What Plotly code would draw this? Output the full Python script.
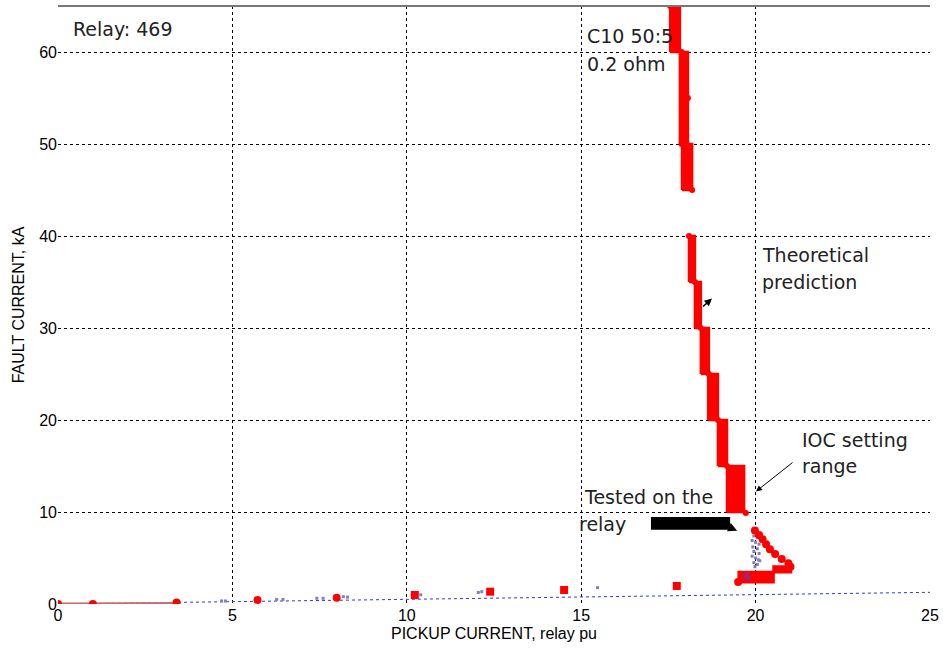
import plotly.graph_objects as go

# Theoretical prediction steps (kA bands and pickup range)
theo_y_low = [60, 50, 45, 35, 30, 25, 20, 15, 10]
theo_y_high = [65, 60, 50, 40, 35, 30, 25, 20, 15]
theo_x_left = [17.55, 17.83, 17.89, 18.09, 18.26, 18.43, 18.64, 18.92, 19.18]
theo_x_right = [17.83, 18.06, 18.18, 18.26, 18.43, 18.66, 18.92, 19.18, 19.67]
theo_dot_x = [17.55, 17.88, 18.06, 17.88, 18.18, 18.09, 18.26, 18.43, 18.66, 18.92, 19.18, 19.72]
theo_dot_y = [65, 60, 55, 50, 45, 40, 35, 30, 25, 20, 15, 9.9]

# Tested region blocks
test_y_low = [2.32, 3.41]
test_y_high = [3.52, 4.14]
test_x_left = [19.5, 20.5]
test_x_right = [20.53, 21.03]
test_dot_x = [19.98, 20.1, 20.2, 20.3, 20.41, 20.56, 20.75, 20.94, 21.0, 19.5]
test_dot_y = [8.0, 7.5, 7.05, 6.5, 5.96, 5.44, 4.9, 4.43, 4.06, 2.4]

# Low-current points
low_x = [0, 1.0, 3.4, 5.72, 7.99, 10.23, 12.39, 14.51, 17.74]
low_y = [0, 0, 0.15, 0.44, 0.69, 0.98, 1.34, 1.52, 1.96]
low_line_x = [0, 3.4]
low_line_y = [0, 0.05]

# Measured (purple) points
meas_x = [4.69, 4.8, 6.27, 6.45, 7.42, 7.6, 8.18, 8.3, 10.28, 10.4, 12.15, 12.05, 15.47,
          19.95, 20.05, 19.9, 20.0, 20.1, 19.92, 20.05, 19.95, 20.1, 19.9, 20.0, 20.08, 19.95, 20.05, 19.98, 20.12]
meas_y = [0.33, 0.33, 0.5, 0.5, 0.62, 0.62, 0.8, 0.75, 1.16, 1.0, 1.34, 1.25, 1.78,
          7.4, 7.2, 6.9, 6.7, 6.5, 6.2, 6.0, 5.7, 5.5, 5.2, 5.0, 4.8, 4.5, 4.3, 4.05, 4.7]
meas_xmark_x = [19.7, 19.8, 19.75]
meas_xmark_y = [3.0, 2.8, 3.2]

# Linear reference line
ref_x = [0, 25]
ref_y = [0, 1.27]

RED = "#ff0000"
fig = go.Figure()

fig.add_trace(go.Scatter(x=ref_x, y=ref_y, mode="lines",
                         line=dict(color="#3030ff", width=1, dash="dot"), hoverinfo="skip"))

def blocks(xl, xr, yl, yh):
    xs, ys = [], []
    for a, b, c, d in zip(xl, xr, yl, yh):
        xs += [a, b, b, a, a, None]
        ys += [c, c, d, d, c, None]
    return xs, ys

bx, by = blocks(theo_x_left, theo_x_right, theo_y_low, theo_y_high)
fig.add_trace(go.Scatter(x=bx, y=by, mode="lines", fill="toself", fillcolor=RED,
                         line=dict(color=RED, width=2.5)))
fig.add_trace(go.Scatter(x=theo_dot_x, y=theo_dot_y, mode="markers",
                         marker=dict(color=RED, size=6)))

tx, ty = blocks(test_x_left, test_x_right, test_y_low, test_y_high)
fig.add_trace(go.Scatter(x=tx, y=ty, mode="lines", fill="toself", fillcolor=RED,
                         line=dict(color=RED, width=1.5)))
fig.add_trace(go.Scatter(x=meas_x, y=meas_y, mode="markers",
                         marker=dict(color="#8080c0", size=3, symbol="square")))
fig.add_trace(go.Scatter(x=meas_xmark_x, y=meas_xmark_y, mode="markers",
                         marker=dict(color="#6040c0", size=6, symbol="x-thin-open",
                                     line=dict(width=1, color="#6040c0"))))
fig.add_trace(go.Scatter(x=test_dot_x, y=test_dot_y, mode="markers",
                         marker=dict(color=RED, size=8)))

fig.add_trace(go.Scatter(x=low_line_x, y=low_line_y, mode="lines",
                         line=dict(color="#c87070", width=3)))
fig.add_trace(go.Scatter(x=low_x, y=low_y, mode="markers",
                         marker=dict(color=RED, size=8,
                                     symbol=["circle"] * 5 + ["square"] * 4)))

TF = dict(family="DejaVu Sans", size=19, color="#222222")
texts = [
    ("Relay: 469", 0.46, 62.5),
    ("C10 50:5", 15.19, 61.7),
    ("0.2 ohm", 15.19, 58.7),
    ("Theoretical", 20.21, 37.9),
    ("prediction", 20.21, 34.96),
    ("IOC setting", 21.36, 17.86),
    ("range", 21.36, 15.03),
    ("Tested on the", 15.11, 11.65),
    ("relay", 14.97, 8.71),
]
for t, x, y in texts:
    fig.add_annotation(x=x, y=y, text=t, showarrow=False, xanchor="left", yanchor="middle",
                       font=TF, xshift=-3)

# arrows
fig.add_annotation(x=20.01, y=12.23, ax=21.1, ay=15.5, axref="x", ayref="y", text="",
                   showarrow=True, arrowhead=2, arrowsize=1.2, arrowwidth=1, arrowcolor="black")
fig.add_annotation(x=19.47, y=7.95, ax=19.27, ay=8.3, axref="x", ayref="y", text="",
                   showarrow=True, arrowhead=2, arrowsize=1.2, arrowwidth=1.5, arrowcolor="black")
fig.add_annotation(x=18.75, y=33.2, ax=18.45, ay=32.2, axref="x", ayref="y", text="",
                   showarrow=True, arrowhead=2, arrowsize=1.0, arrowwidth=1.5, arrowcolor="black",
                   standoff=0)
fig.add_shape(type="rect", x0=17.0, x1=19.27, y0=8.06, y1=9.47, fillcolor="black",
              line=dict(color="black", width=0))
fig.add_shape(type="line", xref="paper", yref="paper", x0=0, x1=1, y0=1, y1=1,
              line=dict(color="#777777", width=2))

AF = dict(family="Liberation Sans", size=16, color="black")
fig.update_layout(
    width=943, height=656, showlegend=False,
    paper_bgcolor="white", plot_bgcolor="white",
    margin=dict(l=58, r=13, t=6, b=52, autoexpand=False),
    xaxis=dict(range=[0, 25], tickvals=[0, 5, 10, 15, 20, 25], showgrid=True,
               gridcolor="black", griddash="dot", gridwidth=1, zeroline=False,
               showline=False, tickfont=AF, ticks="", automargin=False,
               title=dict(text="PICKUP CURRENT, relay pu", font=AF, standoff=4)),
    yaxis=dict(range=[0, 65], tickvals=[0, 10, 20, 30, 40, 50, 60], showgrid=True,
               gridcolor="black", griddash="dot", gridwidth=1, zeroline=False,
               showline=False, tickfont=AF, ticks="", automargin=False,
               title=dict(text="FAULT CURRENT, kA", font=AF, standoff=10)),
)
fig.write_html("out.html", config={"displayModeBar": False},
               post_script="document.body.style.margin='0';document.body.style.overflow='hidden';")
